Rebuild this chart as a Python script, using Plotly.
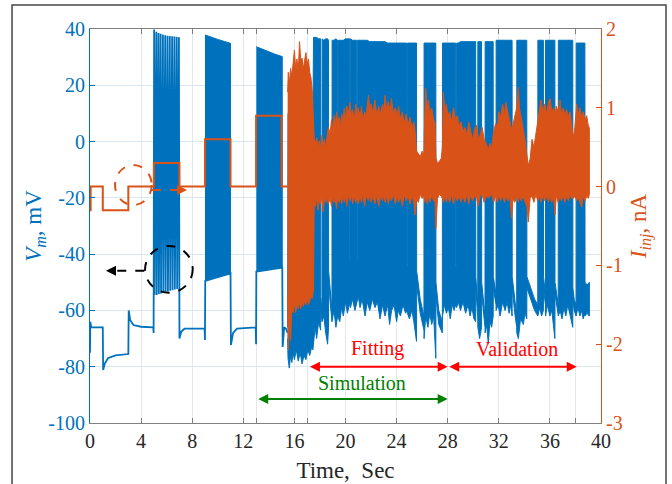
import plotly.graph_objects as go

BLUE = '#0072BD'
ORANGE = '#D95319'

# ---------------- data ----------------
xtick_vals = [0, 4, 8, 12, 13, 16, 17, 20, 24, 28, 32, 36, 38, 40]
xtick_text = ['0', '4', '8', '12', '', '16', '', '20', '24', '28', '32', '36', '', '40']
vm_tick_vals = [-100, -80, -60, -40, -20, 0, 20, 40]
vm_tick_text = ['-100', '-80', '-60', '-40', '-20', '0', '20', '40']
i_tick_vals = [-3, -2, -1, 0, 1, 2]
i_tick_text = ['-3', '-2', '-1', '0', '1', '2']

# injected current, step protocol (nA)
step_t = [0, 0.05, 1, 3, 5, 7, 9, 11, 13, 15, 15.47]
step_i = [-0.3, 0, -0.3, 0, 0.3, 0, 0.6, 0, 0.9, 0, 0]

# injected current, noisy part: upper / lower envelope (nA)
noise_t = [15.47, 15.52, 15.6, 15.7, 15.8, 15.9, 16.0, 16.1, 16.2, 16.3, 16.4, 16.5, 16.6, 16.7, 16.8, 16.9,
           17.0, 17.1, 17.2, 17.3, 17.4, 17.5, 17.55, 17.65, 17.75, 17.85, 17.95, 18.05, 18.15, 18.25, 18.35,
           18.45, 18.55, 18.65, 18.8, 18.9, 19.0, 19.1, 19.2, 19.3, 19.4, 19.5, 19.6, 19.7, 19.8, 19.9, 20.0,
           20.1, 20.2, 20.35, 20.45, 20.55, 20.7, 20.8, 20.9, 21.0, 21.14, 21.25, 21.35, 21.5, 21.6, 21.8, 21.9,
           22.0, 22.15, 22.3, 22.45, 22.6, 22.75, 22.9, 23.0, 23.1, 23.2, 23.35, 23.5, 23.6, 23.75, 23.9, 24.05,
           24.15, 24.3, 24.45, 24.6, 24.75, 24.9, 25.05, 25.2, 25.35, 25.45, 25.57, 25.7, 25.85, 26.0, 26.14,
           26.2, 26.28, 26.4, 26.5, 26.6, 26.75, 26.9, 27.01, 27.08, 27.2, 27.35, 27.5, 27.58, 27.66, 27.78,
           27.9, 28.0, 28.15, 28.3, 28.45, 28.6, 28.75, 28.9, 29.05, 29.2, 29.35, 29.5, 29.65, 29.8, 29.95,
           30.1, 30.27, 30.4, 30.53, 30.7, 30.85, 31.0, 31.18, 31.3, 31.44, 31.6, 31.75, 31.9, 32.0, 32.15,
           32.3, 32.45, 32.55, 32.7, 32.85, 33.0, 33.1, 33.25, 33.4, 33.53, 33.62, 33.75, 33.9, 34.05, 34.2,
           34.31, 34.45, 34.6, 34.75, 34.9, 35.05, 35.2, 35.3, 35.45, 35.6, 35.75, 35.9, 36.01, 36.15, 36.3,
           36.4, 36.5, 36.65, 36.79, 36.9, 37.05, 37.18, 37.3, 37.45, 37.57, 37.7, 37.83, 37.95, 38.1, 38.2,
           38.35, 38.49, 38.6, 38.75, 38.88, 39.0, 39.09]
noise_hi = [1.2, 1.45, 1.3, 1.5, 1.4, 1.55, 1.73, 1.5, 1.62, 1.45, 1.84, 1.6, 1.63, 1.5, 1.6, 1.7,
            1.55, 1.62, 1.45, 1.38, 1.2, 0.9, 0.62, 0.55, 0.62, 0.5, 0.58, 0.48, 0.65, 0.52, 0.6,
            0.5, 0.62, 0.75, 0.68, 0.85, 0.72, 0.9, 0.78, 0.95, 0.8, 0.88, 0.75, 0.92, 0.82, 1.0, 0.85,
            1.02, 0.9, 1.07, 0.9, 0.98, 0.85, 1.05, 0.9, 1.0, 0.88, 1.02, 0.85, 0.95, 0.88, 1.16, 0.95,
            1.05, 0.92, 1.1, 0.9, 1.02, 0.92, 1.05, 0.95, 1.16, 0.98, 1.08, 0.95, 1.12, 0.92, 1.0, 0.88,
            1.02, 0.85, 0.95, 0.8, 0.92, 0.78, 0.88, 0.75, 0.82, 0.7, 0.45, 0.42, 0.38, 0.45, 0.4,
            0.9, 1.25, 1.0, 1.1, 0.92, 1.0, 0.85, 0.8, 0.36, 0.3, 0.32, 0.36, 0.5, 1.2, 0.98,
            1.05, 0.9, 0.95, 0.82, 1.0, 0.85, 0.9, 0.78, 0.82, 0.7, 0.75, 0.65, 0.82, 0.7, 0.6,
            0.72, 0.78, 0.6, 0.65, 0.75, 0.6, 0.55, 0.47, 0.55, 0.5, 0.7, 0.8, 0.75, 0.95, 0.88,
            1.05, 0.92, 1.07, 0.95, 0.85, 0.72, 0.78, 0.9, 1.0, 1.26, 1.0, 0.88, 0.75, 0.6, 0.4,
            0.27, 0.35, 0.6, 0.5, 0.65, 0.85, 1.0, 1.1, 0.95, 1.05, 0.92, 1.08, 1.12, 0.95, 1.0,
            0.9, 1.02, 0.95, 1.1, 0.92, 1.0, 0.9, 0.98, 0.88, 0.95, 0.8, 0.62, 0.75, 1.05, 0.9,
            1.0, 0.88, 0.95, 0.85, 0.9, 0.78, 0.74]
noise_lo = [-1.4, -2.07, -1.8, -1.95, -1.55, -1.6, -1.45, -1.6, -1.5, -1.55, -1.48, -1.55, -1.45, -1.52, -1.45, -1.5,
            -1.42, -1.5, -1.45, -1.4, -1.42, -1.3, -0.2, -0.25, -0.15, -0.3, -0.18, -0.22, -0.12, -0.32, -0.15,
            -0.2, -0.12, -0.22, -0.15, -0.25, -0.12, -0.2, -0.15, -0.28, -0.12, -0.2, -0.14, -0.22, -0.1, -0.2, -0.12,
            -0.25, -0.12, -0.18, -0.1, -0.22, -0.12, -0.2, -0.14, -0.22, -0.12, -0.2, -0.1, -0.25, -0.12, -0.18, -0.1,
            -0.2, -0.12, -0.22, -0.1, -0.25, -0.12, -0.18, -0.1, -0.2, -0.12, -0.22, -0.12, -0.18, -0.1, -0.22, -0.12,
            -0.2, -0.12, -0.25, -0.1, -0.18, -0.12, -0.22, -0.12, -0.2, -0.36, -0.15, -0.2, -0.1, -0.15, -0.12,
            -0.2, -0.12, -0.22, -0.12, -0.2, -0.12, -0.18, -0.2, -0.53, -0.15, -0.1, -0.12, -0.15, -0.2, -0.12,
            -0.2, -0.12, -0.2, -0.1, -0.22, -0.12, -0.18, -0.12, -0.2, -0.12, -0.2, -0.1, -0.22, -0.1, -0.18,
            -0.12, -0.15, -0.25, -0.12, -0.1, -0.2, -0.12, -0.15, -0.12, -0.1, -0.2, -0.12, -0.2, -0.1, -0.18,
            -0.12, -0.2, -0.12, -0.18, -0.12, -0.4, -0.15, -0.2, -0.12, -0.2, -0.12, -0.18, -0.12, -0.2, -0.25,
            -0.45, -0.15, -0.12, -0.2, -0.1, -0.18, -0.12, -0.2, -0.12, -0.18, -0.12, -0.2, -0.12, -0.2, -0.15,
            -0.36, -0.12, -0.2, -0.12, -0.18, -0.12, -0.2, -0.12, -0.18, -0.1, -0.15, -0.15, -0.12, -0.18, -0.12,
            -0.2, -0.26, -0.12, -0.18, -0.12, -0.15, -0.1]

# membrane potential, 0 - 15.47 s trace (mV)
vm_t = [0, 0.02, 0.1, 1.0, 1.03, 1.15, 1.4, 2.0, 3.0, 3.03, 3.15, 3.4, 4.0, 4.95, 4.98,
        5.02, 5.05, 5.19, 5.22, 5.36, 5.39, 5.53, 5.56, 5.71, 5.74, 5.89, 5.92, 6.07, 6.1, 6.25, 6.28,
        6.43, 6.46, 6.61, 6.64, 6.79, 6.82, 6.96, 7.0, 7.15, 7.4, 8.97, 9.0, 9.02,
        11.0, 11.03, 11.2, 11.5, 12.97, 13.0, 13.02, 15.05, 15.08, 15.2, 15.35, 15.47]
vm_v = [-75, -64, -66, -66, -81.2, -79, -77, -76, -75.5, -60, -63.5, -65.2, -65.8, -66, -68,
        39.8, -54.5, 39.0, -54.5, 38.6, -54.2, 38.3, -54, 38.0, -53.8, 37.8, -53.5, 37.6, -53.3, 37.5, -53,
        37.4, -52.8, 37.3, -52.6, 37.2, -52.4, 37.1, -70, -67.5, -66.5, -66.5, -70.5, -49.5,
        -46.8, -72.3, -68, -66.5, -66, -72, -46.2, -44.8, -73, -66, -66.5, -68]

# dense spike trains (envelopes, mV)
burst2_t = [9.0, 9.5, 10.0, 10.5, 11.0]
burst2_hi = [37.9, 37.0, 36.3, 35.6, 34.9]
burst2_lo = [-49.5, -48.5, -48.0, -47.3, -46.8]
burst3_t = [13.02, 13.5, 14.0, 14.5, 15.05]
burst3_hi = [33.7, 32.8, 31.8, 31.0, 30.2]
burst3_lo = [-46.2, -45.8, -45.4, -45.0, -44.8]

# membrane potential, noisy part: upper / lower envelope (mV); low upper values = pauses in firing
env_t = [15.47, 15.5, 15.6, 15.7, 15.8, 15.9, 16.0, 16.15, 16.3, 16.45, 16.6, 16.75, 16.9, 17.05, 17.2, 17.35,
         17.45, 17.5, 17.62, 17.74, 17.9, 18.05, 18.06, 18.16, 18.17, 18.3, 18.45, 18.6, 18.67, 18.68, 18.94,
         18.95, 19.1, 19.25, 19.38, 19.39, 19.44, 19.45, 19.55, 19.7, 19.83, 20.0, 20.15, 20.3, 20.33, 20.34,
         20.39, 20.4, 20.55, 20.74, 20.85, 20.86, 20.91, 20.92, 21.0, 21.14, 21.3, 21.53, 21.7, 21.9, 22.1,
         22.31, 22.5, 22.7, 22.9, 23.09, 23.3, 23.45, 23.61, 23.8, 24.0, 24.13, 24.3, 24.5, 24.7, 24.77,
         24.78, 24.84, 24.85, 25.0, 25.2, 25.35, 25.45, 25.56, 25.57, 25.85, 26.14, 26.15, 26.28, 26.45,
         26.6, 26.75, 26.9, 27.0, 27.07, 27.08, 27.3, 27.58, 27.59, 27.75, 27.9, 28.05, 28.2, 28.35, 28.5,
         28.62, 28.63, 28.69, 28.7, 28.83, 29.0, 29.2, 29.4, 29.6, 29.75, 29.9, 30.05, 30.19, 30.2, 30.35,
         30.36, 30.5, 30.65, 30.66, 30.92, 30.93, 31.05, 31.18, 31.3, 31.44, 31.56, 31.57, 31.78, 31.79,
         31.95, 32.1, 32.3, 32.49, 32.65, 32.8, 32.95, 33.04, 33.05, 33.25, 33.4, 33.41, 33.53, 33.7, 33.92,
         34.05, 34.19, 34.2, 34.5, 34.8, 35.05, 35.06, 35.2, 35.35, 35.49, 35.5, 35.65, 35.66, 35.8, 36.0,
         36.15, 36.3, 36.39, 36.4, 36.65, 36.66, 36.8, 36.95, 37.1, 37.25, 37.4, 37.57, 37.7, 37.79, 37.8,
         37.9, 38.05, 38.06, 38.2, 38.35, 38.49, 38.6, 38.74, 38.75, 38.9, 39.09]
env_hi = [-66, 10, 10, 10, 10, 10, 10, 10, 10, 10, 10, 10, 10, 10, 10, 10,
          10, 37, 37, 37, 36.5, 36.5, -55, -60, 36.5, 36, 36.5, 36.5, 36, -46, -60,
          36, 36, 36.5, 36, 36, -42, 36, 36, 36, 36, 36.5, 36.5, 36.5, 36.5, -42,
          -42, 36.5, 36, 36, 36, -42, -42, 36, 36, 36, 36, 36, 36, 35.5, 35.5,
          35.5, 35.5, 35.5, 35.5, 35.5, 35, 35, 35, 35, 35, 35, 35, 35, 35, 35,
          -44, -44, 35, 35, 35, 35, 35, 35, -46, -56, -62, 35, 35, 35,
          35, 35, 35, 35, 35, -50, -60, -64, 35, 35, 35, 35, 35, 35, 35,
          35, -44, -44, 35, 35, 35.5, 35.5, 35.5, 35.5, 35.5, 35.5, 35.5, 35.5, -48, -58,
          35.5, 35.5, 35.5, -50, -62, 35.5, 35.5, 35.5, 35.5, 35.5, 35.5, -48, -54, 36,
          36, 36, 36, 36, 36, 36, 36, 36, -48, -56, -62, 36, 36, 36, 36,
          36, 36, -48, -52, -56, -58, 36, 36, 36, 36, -48, -54, 36, 36, 36,
          36, 36, 36, -50, -58, 36, 36, 36, 36, 36, 36, 36, 36, 36, -52,
          -56, -58, 35, 35, 35, 35, 35, 35, -50, -51, -50]
env_lo = [-70, -77, -80.5, -76, -78.5, -75, -77.5, -74, -78, -75, -79, -76, -77.5, -74, -76, -73,
          -74, -72, -66, -70, -64, -67, -60, -64, -64, -62, -68, -72, -66, -51, -64,
          -64, -60, -66, -62, -62, -62, -62, -64, -59, -62, -57, -61, -58, -58, -58,
          -59, -59, -56, -60, -58, -58, -57, -57, -55, -59, -56, -62, -57, -60, -56,
          -59, -57, -63, -58, -62, -58, -65, -60, -58, -64, -60, -62, -58, -61, -60,
          -60, -61, -61, -63, -60, -64, -66, -71, -51, -61, -67, -70, -62, -66,
          -61, -65, -62, -70, -77, -55, -65, -68, -62, -58, -61, -59, -63, -58, -60,
          -58, -58, -59, -59, -57, -60, -57, -61, -58, -62, -59, -63, -64, -52, -62,
          -66, -70, -66, -54, -66, -68, -65, -72, -64, -66, -62, -52, -58, -60,
          -58, -62, -57, -60, -57, -61, -58, -62, -52, -61, -66, -68, -70, -63, -65,
          -61, -63, -52, -56, -60, -62, -62, -59, -62, -60, -52, -58, -62, -58, -62,
          -60, -66, -70, -54, -62, -62, -60, -63, -59, -62, -58, -61, -64, -66, -56,
          -60, -62, -62, -59, -62, -60, -63, -61, -62, -61, -62]

# annotation spans (s)
fit_span = [17.1, 28.0]
val_span = [28.0, 38.1]
sim_span = [13.05, 28.0]

# ---------------- figure ----------------
fig = go.Figure()


def band(t, hi, lo, color, yaxis):
    return go.Scatter(x=list(t) + list(t)[::-1], y=list(hi) + list(lo)[::-1],
                      fill='toself', fillcolor=color, mode='lines',
                      line=dict(color=color, width=1), yaxis=yaxis, hoverinfo='skip')


fig.add_trace(go.Scatter(x=vm_t, y=vm_v, mode='lines', line=dict(color=BLUE, width=1.8), yaxis='y'))
fig.add_trace(band(burst2_t, burst2_hi, burst2_lo, BLUE, 'y'))
fig.add_trace(band(burst3_t, burst3_hi, burst3_lo, BLUE, 'y'))
fig.add_trace(band(env_t, env_hi, env_lo, BLUE, 'y'))

fig.add_trace(go.Scatter(x=step_t, y=step_i, mode='lines', line=dict(color=ORANGE, width=2, shape='hv'), yaxis='y2'))
fig.add_trace(band(noise_t, noise_hi, noise_lo, ORANGE, 'y2'))

serif = 'Liberation Serif'

fig.update_layout(
    width=672, height=484,
    margin=dict(l=90, r=71, t=29, b=61, autoexpand=False),
    paper_bgcolor='white', plot_bgcolor='white', showlegend=False,
    font=dict(family=serif, size=20, color='#262626'),
    xaxis=dict(range=[0, 40], tickvals=xtick_vals, ticktext=xtick_text, ticks='inside', ticklen=5,
               tickcolor='#808080', showline=True, linecolor='#808080', linewidth=1, mirror='ticks',
               showgrid=True, gridcolor='#e3e8ee', gridwidth=1, zeroline=False, automargin=False,
               tickfont=dict(size=20, color='#262626'),
               title=dict(text='Time,  Sec', font=dict(size=23, color='#262626'), standoff=10)),
    yaxis=dict(range=[-100, 40], tickvals=vm_tick_vals, ticktext=vm_tick_text, ticks='inside', ticklen=5,
               tickcolor=BLUE, showline=True, linecolor=BLUE, linewidth=1, showgrid=True, automargin=False,
               gridcolor='#dae7f3', gridwidth=1, zeroline=False, tickfont=dict(size=20, color=BLUE),
               title=dict(text='<i>V<sub>m</sub></i>, mV', font=dict(size=23, color=BLUE), standoff=0)),
    yaxis2=dict(range=[-3, 2], tickvals=i_tick_vals, ticktext=i_tick_text, overlaying='y', side='right',
                ticks='inside', ticklen=5, tickcolor=ORANGE, showline=True, linecolor=ORANGE, linewidth=1,
                showgrid=False, zeroline=False, tickfont=dict(size=20, color=ORANGE), automargin=False,
                title=dict(text='<i>I<sub>inj</sub></i>, nA', font=dict(size=23, color=ORANGE), standoff=8)),
)

# outer frame
fig.add_shape(type='rect', xref='paper', yref='paper', x0=-0.1526, x1=1.1272, y0=-0.2, y1=1.0609,
              line=dict(color='#444444', width=1.5), layer='above')

# dashed circles
fig.add_shape(type='circle', xref='x', yref='y2', x0=1.96, x1=4.83, y0=-0.234, y1=0.274,
              line=dict(color=ORANGE, width=2, dash='dash'))
fig.add_shape(type='circle', xref='x', yref='y', x0=4.31, x1=8.04, y0=-53.7, y1=-37.1,
              line=dict(color='black', width=2, dash='dash'))
# dashed arrow shafts
fig.add_shape(type='line', xref='x', yref='y2', x0=4.85, x1=7.3, y0=-0.043, y1=-0.043,
              line=dict(color=ORANGE, width=2, dash='dash'))
fig.add_shape(type='line', xref='x', yref='y', x0=4.25, x1=1.5, y0=-45.9, y1=-45.9,
              line=dict(color='black', width=2, dash='dash'))

ann = []
ann.append(dict(x=7.6, y=-0.043, xref='x', yref='y2', ax=6.9, ay=-0.043, axref='x', ayref='y2',
                text='', showarrow=True, arrowhead=2, arrowsize=1, arrowwidth=2, arrowcolor=ORANGE))
ann.append(dict(x=1.25, y=-45.9, xref='x', yref='y', ax=2.0, ay=-45.9, axref='x', ayref='y',
                text='', showarrow=True, arrowhead=2, arrowsize=1, arrowwidth=2, arrowcolor='black'))

for span, yv, col in [(fit_span, -80, '#FF0000'), (val_span, -80, '#FF0000'), (sim_span, -91.5, '#008000')]:
    ann.append(dict(x=span[1], y=yv, xref='x', yref='y', ax=span[0], ay=yv, axref='x', ayref='y',
                    text='', showarrow=True, arrowhead=2, arrowside='end+start', arrowsize=1,
                    arrowwidth=2, arrowcolor=col))

ann.append(dict(x=22.47, y=-73.7, xref='x', yref='y', text='Fitting', showarrow=False,
                font=dict(family=serif, size=20, color='#FF0000')))
ann.append(dict(x=33.46, y=-73.7, xref='x', yref='y', text='Validation', showarrow=False,
                font=dict(family=serif, size=20, color='#FF0000')))
ann.append(dict(x=21.27, y=-85.8, xref='x', yref='y', text='Simulation', showarrow=False,
                font=dict(family=serif, size=20, color='#008000')))
fig.update_layout(annotations=ann)

fig.write_html('out.html')
